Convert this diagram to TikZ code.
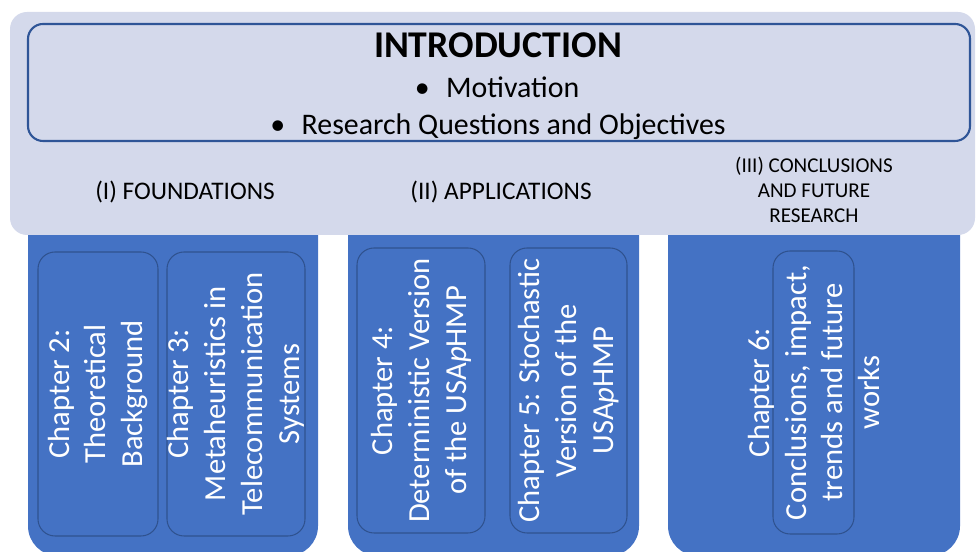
\documentclass[tikz,border=0pt]{standalone}
\usepackage{fontspec}
\setmainfont{Carlito}
\definecolor{lavender}{HTML}{D4D9EB}
\definecolor{partblue}{HTML}{4472C4}
\definecolor{framedark}{HTML}{2F5597}
\definecolor{chapline}{HTML}{2F528F}
\tikzset{
	part/.style={fill=partblue, rounded corners=0.6cm, inner sep=0pt, minimum height=8.12cm},
	chapbox/.style={draw=chapline, line width=0.6pt, rounded corners=0.34cm, inner sep=0pt},
	chaptext/.style={text=white, rotate=90, align=center, font=\fontsize{17.4}{21}\selectfont},
	parttitle/.style={align=center, font=\fontsize{14.4}{17}\selectfont},
}

\begin{document}
\begin{tikzpicture}[]
	%\draw[help lines, thick] (0,0) grid (20,11);
	\useasboundingbox (0,0) rectangle (19.52,11.04);
	% three parts
	\node[part, minimum width=5.8cm] (foundations) at (3.46,3.98) {};
	\node[part, minimum width=5.82cm] (applications) at (9.87,3.98) {};
	\node[part, minimum width=5.84cm] (conclusions) at (16.28,3.98) {};
	% introduction
	\node[fill=lavender, rounded corners=0.34cm, minimum width=19.3cm, minimum height=4.46cm] (intro) at (9.85,8.57) {};
	\node[draw=framedark, line width=1.2pt, rounded corners=0.3cm, minimum width=18.84cm, minimum height=2.34cm] (introframe) at (9.98,9.39) {};
	\node[anchor=base, font=\fontsize{21.5}{24}\selectfont\bfseries] (introtitle) at (9.96,9.88) {INTRODUCTION};
	\node[anchor=base, font=\fontsize{17}{20}\selectfont] (motivation) at (9.94,9.08) {•\hspace{0.55em}Motivation};
	\node[anchor=base, font=\fontsize{17}{20}\selectfont] (questions) at (9.96,8.34) {•\hspace{0.55em}Research Questions and Objectives};
	\node[parttitle, anchor=base] (foundtitle) at (3.7,7.04) {(I) FOUNDATIONS};
	\node[parttitle, anchor=base] (appltitle) at (10.02,7.04) {(II) APPLICATIONS};
	\node[parttitle, font=\fontsize{12}{14.2}\selectfont] (conctitle) at (16.28,7.24) {(III) CONCLUSIONS\\AND FUTURE\\RESEARCH};
	% chapters
	\node[chapbox, minimum width=2.4cm, minimum height=5.68cm] (ch2) at (1.96,3.16) {};
	\node[chaptext] at (ch2) {Chapter 2:\\Theoretical\\Background};
	\node[chapbox, minimum width=2.76cm, minimum height=5.68cm] (ch3) at (4.72,3.16) {};
	\node[chaptext] at (ch3) {Chapter 3:\\Metaheuristics in\\Telecommunication\\Systems};
	\node[chapbox, minimum width=2.56cm, minimum height=5.7cm] (ch4) at (8.42,3.23) {};
	\node[chaptext] at (ch4) {Chapter 4:\\Deterministic Version\\of the USA\textit{p}HMP};
	\node[chapbox, minimum width=2.34cm, minimum height=5.7cm] (ch5) at (11.37,3.23) {};
	\node[chaptext] at (ch5) {Chapter 5: Stochastic\\Version of the\\USA\textit{p}HMP};
	\node[chapbox, minimum width=1.62cm, minimum height=5.66cm] (ch6) at (16.27,3.19) {};
	\node[chaptext] at (16.28,3.19) {Chapter 6:\\Conclusions, impact,\\trends and future\\works};
\end{tikzpicture}
\end{document}
